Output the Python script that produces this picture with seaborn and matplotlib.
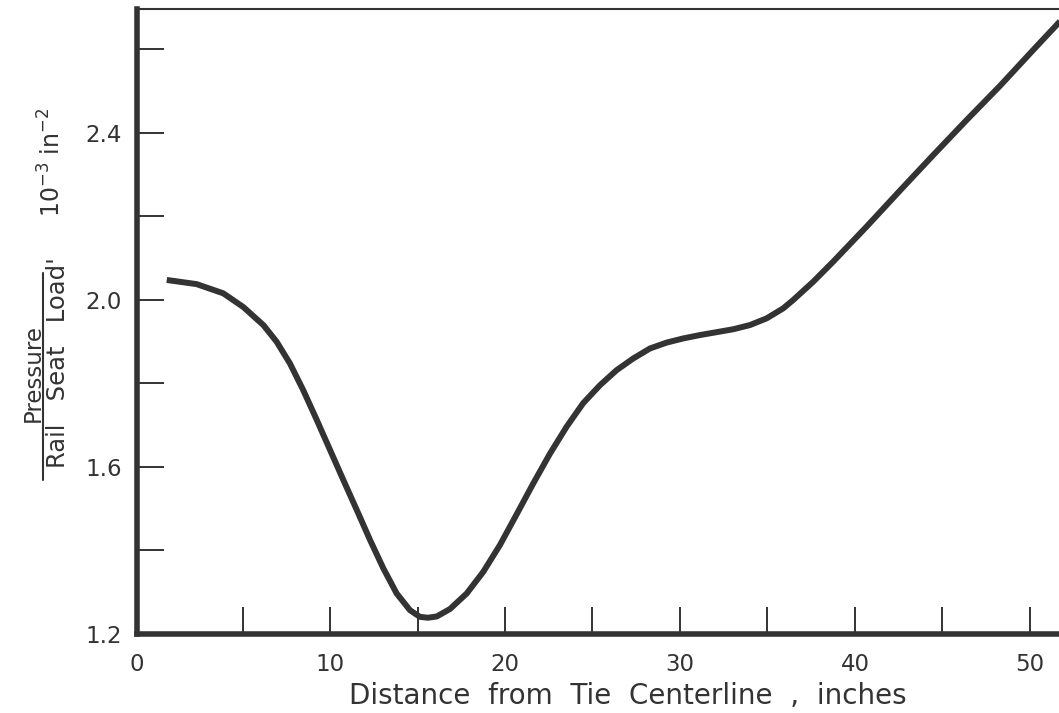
import numpy as np
import pandas as pd
import matplotlib
matplotlib.use("Agg")
import matplotlib.pyplot as plt
from matplotlib.lines import Line2D
import seaborn as sns

# ---- data ----
distance_in = [0.67, 2.38, 3.90, 5.05, 6.19, 6.95, 7.71, 8.47, 9.24, 10.0,
               10.76, 11.53, 12.29, 13.05, 13.81, 14.57, 15.14, 15.60, 16.10, 16.86,
               17.81, 18.76, 19.71, 20.67, 21.62, 22.57, 23.53, 24.47, 25.43, 26.38,
               27.33, 28.29, 29.24, 30.19, 31.14, 32.10, 33.05, 34.0, 34.95, 35.90,
               36.47, 37.62, 38.76, 40.67, 42.57, 44.47, 46.38, 48.29, 50.19, 51.53, 51.9]
pressure_ratio = [2.048, 2.038, 2.016, 1.983, 1.940, 1.900, 1.848, 1.784, 1.713, 1.641,
                  1.569, 1.497, 1.425, 1.357, 1.297, 1.257, 1.241, 1.239, 1.242, 1.260,
                  1.297, 1.349, 1.413, 1.487, 1.561, 1.632, 1.697, 1.753, 1.796, 1.832,
                  1.860, 1.884, 1.898, 1.908, 1.916, 1.923, 1.930, 1.940, 1.956, 1.980,
                  2.000, 2.044, 2.092, 2.176, 2.262, 2.347, 2.431, 2.513, 2.599, 2.659, 2.676]

x_major = [10, 20, 30, 40, 50]
x_minor = [5, 15, 25, 35, 45]
y_major = [1.2, 1.6, 2.0, 2.4]
y_minor = [1.4, 1.8, 2.2, 2.6]
y_labels = ["1.2", "1.6", "2.0", "2.4"]
x_labels = ["0", "10", "20", "30", "40", "50"]

X_MIN, X_MAX = -1.03, 51.66
Y_MIN, Y_MAX = 1.2, 2.697

INK = "#333333"
W, H = 1059, 713

sns.set_style("ticks")
plt.rcParams["font.family"] = ["DejaVu Sans"]
plt.rcParams["mathtext.fontset"] = "dejavusans"

df = pd.DataFrame({"x": distance_in, "y": pressure_ratio})

fig = plt.figure(figsize=(W / 100, H / 100), dpi=100)
ax = fig.add_axes([137 / W, 1 - 634 / H, (W - 137) / W, 625 / H])

sns.lineplot(data=df, x="x", y="y", ax=ax, color=INK, linewidth=4.3,
             sort=False, estimator=None)
ax.lines[-1].set_solid_capstyle("butt")
ax.lines[-1].set_solid_joinstyle("round")

ax.set_xlim(X_MIN, X_MAX)
ax.set_ylim(Y_MIN, Y_MAX)

ax.set_xticks([X_MIN] + x_major)
ax.set_xticklabels(x_labels)
ax.set_xticks(x_minor, minor=True)
ax.set_yticks(y_major)
ax.set_yticklabels(y_labels)
ax.set_yticks(y_minor, minor=True)

for which in ("major", "minor"):
    ax.tick_params(axis="both", which=which, direction="in", length=19.5, width=1.4,
                   color=INK, labelcolor=INK, labelsize=16.5)
ax.tick_params(axis="x", which="major", pad=14)
ax.tick_params(axis="y", which="major", pad=11)

for s in ("left", "bottom"):
    ax.spines[s].set_linewidth(4.0)
    ax.spines[s].set_color(INK)
ax.spines["top"].set_linewidth(1.5)
ax.spines["top"].set_color(INK)
ax.spines["top"].set_visible(True)
ax.spines["right"].set_visible(False)

ax.set_xlabel("Distance  from  Tie  Centerline  ,  inches", fontsize=20, color=INK)
ax.xaxis.set_label_coords((628 - 137) / (W - 137), (634 - 696) / 625)
ax.xaxis.label.set_va("center")
ax.set_ylabel("")

# composite y-axis label: fraction + units
fig.text(33 / W, 1 - 373 / H, "Pressure", rotation=90, ha="center", va="center",
         fontsize=16.5, color=INK)
fig.add_artist(Line2D([43 / W, 43 / W], [1 - 273 / H, 1 - 480 / H],
                      transform=fig.transFigure, color=INK, linewidth=1.5))
fig.text(58 / W, 1 - 363 / H, "Rail   Seat   Load'", rotation=90, ha="center", va="center",
         fontsize=17.5, color=INK)
fig.text(52 / W, 1 - 162 / H, r"$10^{-3}$ in$^{-2}$", rotation=90, ha="center", va="center",
         fontsize=17, color=INK)

fig.savefig("out.png", dpi=100, facecolor="white")
